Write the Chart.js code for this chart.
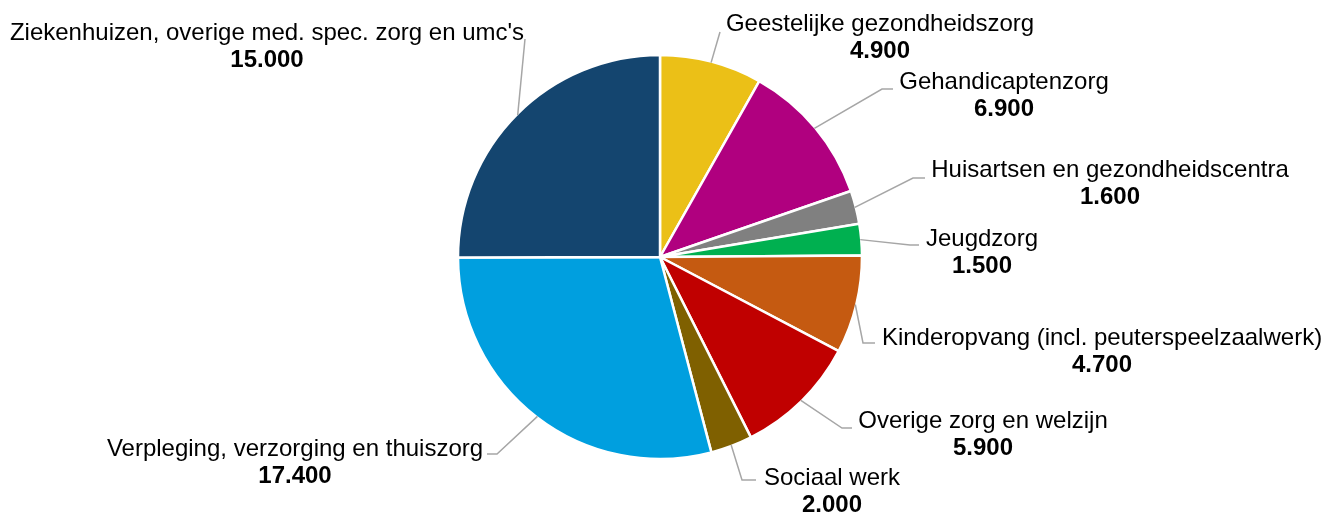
<!DOCTYPE html>
<html>
<head>
<meta charset="utf-8">
<script src="https://cdn.jsdelivr.net/npm/chart.js@4/dist/chart.umd.min.js"></script>
<style>
  html, body { margin: 0; padding: 0; background: #fff; }
  #wrap { width: 1325px; height: 513px; }
</style>
</head>
<body>
<div id="wrap"><canvas id="pie" width="1325" height="513"></canvas></div>
<script>
// Data
const categories = [
    'Geestelijke gezondheidszorg',
    'Gehandicaptenzorg',
    'Huisartsen en gezondheidscentra',
    'Jeugdzorg',
    'Kinderopvang (incl. peuterspeelzaalwerk)',
    'Overige zorg en welzijn',
    'Sociaal werk',
    'Verpleging, verzorging en thuiszorg',
    "Ziekenhuizen, overige med. spec. zorg en umc's"
];
const values = [4900, 6900, 1600, 1500, 4700, 5900, 2000, 17400, 15000];

const colors = ['#EBC017', '#B0007F', '#808080', '#00B050', '#C55A11', '#C00000', '#7F6000', '#009FDF', '#14456F'];

// label layout, offsets from the pie centre: text centre x, first baseline y, elbow, line end
const labelSpots = [
    { tx: 220, ty: -226, elbow: [60, -225], end: [60, -225] },
    { tx: 344, ty: -168, elbow: [222, -168], end: [233, -168] },
    { tx: 450, ty: -80, elbow: [253, -79], end: [265, -79] },
    { tx: 322, ty: -11, elbow: [250, -12], end: [259, -12] },
    { tx: 442, ty: 88, elbow: [203, 86], end: [215, 86] },
    { tx: 323, ty: 171, elbow: [182, 171], end: [192, 171] },
    { tx: 172, ty: 228, elbow: [82, 223], end: [96, 223] },
    { tx: -365, ty: 199, elbow: [-163, 197], end: [-173, 197] },
    { tx: -393, ty: -217, elbow: [-135, -218], end: [-135, -218] }
];

function fmt(v) {
    return String(v).replace(/\B(?=(\d{3})+(?!\d))/g, '.');
}

const labelPlugin = {
    id: 'pieLabels',
    afterDatasetsDraw(chart) {
        const ctx = chart.ctx;
        const arcs = chart.getDatasetMeta(0).data;
        ctx.save();
        arcs.forEach((arc, i) => {
            const spot = labelSpots[i];
            const cx = arc.x, cy = arc.y;
            const mid = (arc.startAngle + arc.endAngle) / 2;
            const r = arc.outerRadius - 1;

            // leader line
            ctx.strokeStyle = '#A6A6A6';
            ctx.lineWidth = 1.5;
            ctx.beginPath();
            ctx.moveTo(cx + Math.cos(mid) * r, cy + Math.sin(mid) * r);
            ctx.lineTo(cx + spot.elbow[0], cy + spot.elbow[1]);
            ctx.lineTo(cx + spot.end[0], cy + spot.end[1]);
            ctx.stroke();

            // texts
            ctx.fillStyle = '#000';
            ctx.textAlign = 'center';
            ctx.textBaseline = 'alphabetic';
            ctx.font = '24px "Liberation Sans", Arial, sans-serif';
            ctx.fillText(categories[i], cx + spot.tx, cy + spot.ty);
            ctx.font = 'bold 24px "Liberation Sans", Arial, sans-serif';
            ctx.fillText(fmt(values[i]), cx + spot.tx, cy + spot.ty + 27);
        });
        ctx.restore();
    }
};

new Chart(document.getElementById('pie').getContext('2d'), {
    type: 'pie',
    data: {
        labels: categories,
        datasets: [{
            data: values,
            backgroundColor: colors,
            borderColor: '#fff',
            borderWidth: 2.5,
            radius: 202
        }]
    },
    options: {
        responsive: false,
        animation: false,
        layout: { padding: { left: 0, right: 5, top: 1, bottom: 0 } },
        plugins: {
            legend: { display: false },
            tooltip: { enabled: false }
        }
    },
    plugins: [labelPlugin]
});
</script>
</body>
</html>
